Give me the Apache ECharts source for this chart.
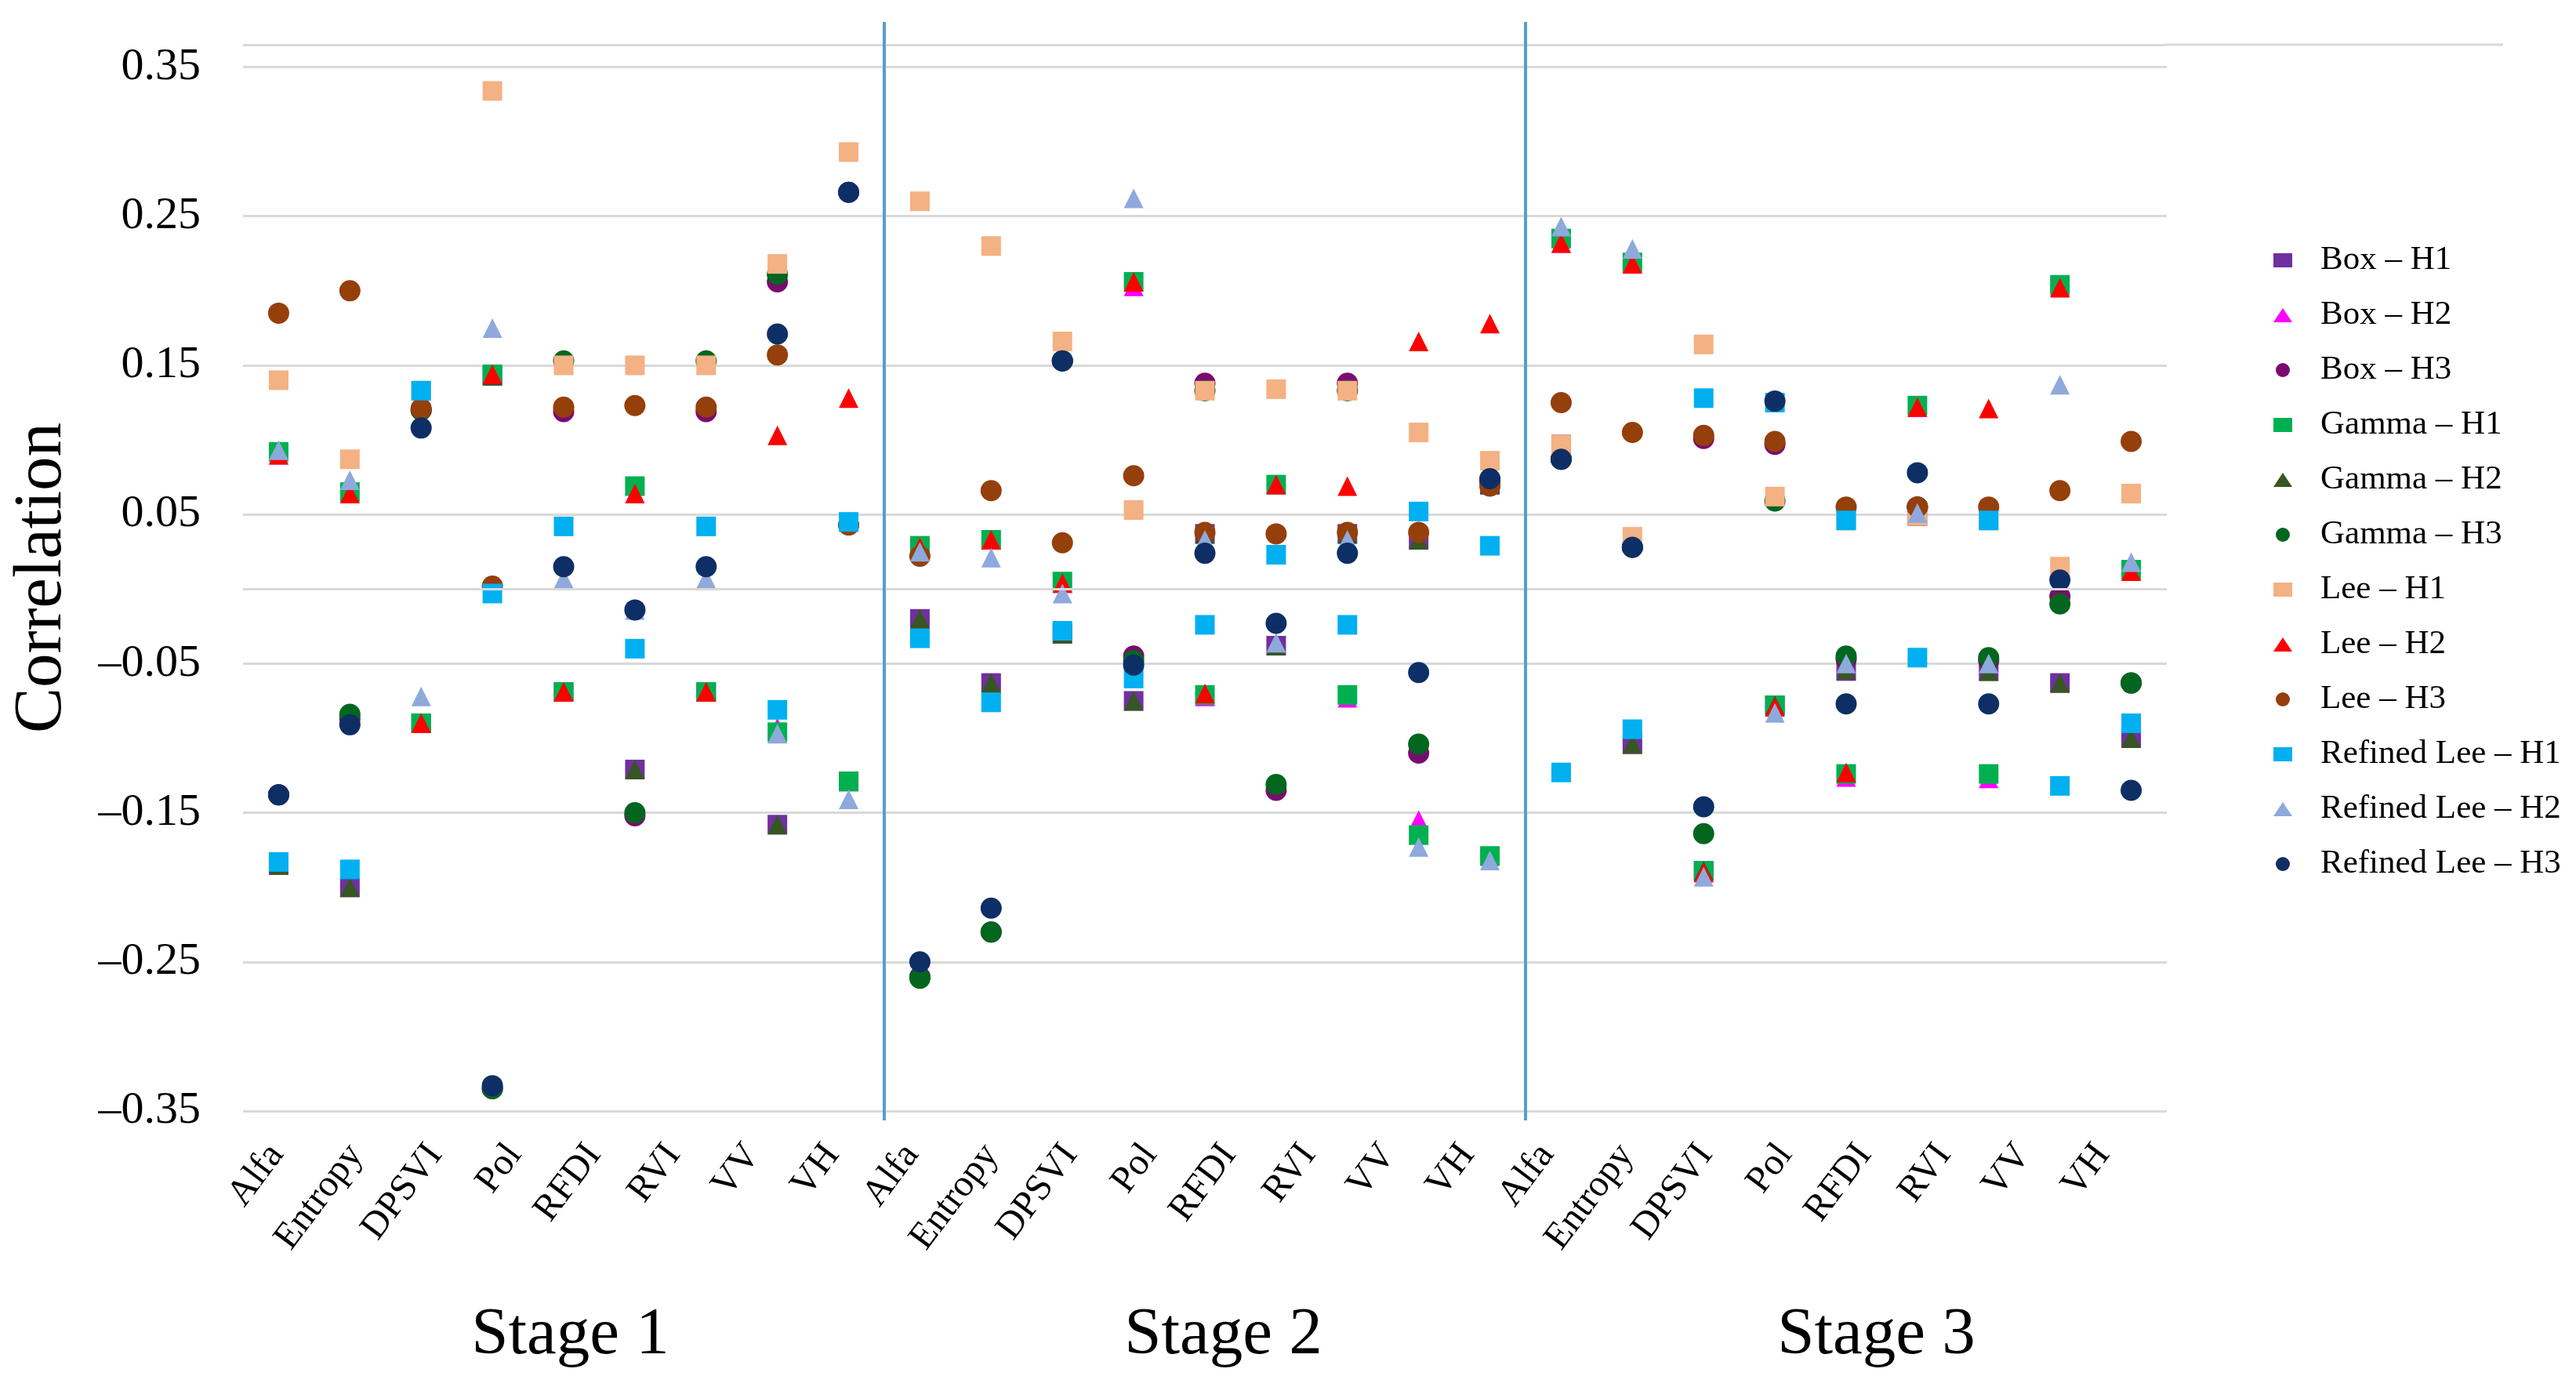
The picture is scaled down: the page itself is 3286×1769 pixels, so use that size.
<!DOCTYPE html>
<html><head><meta charset="utf-8">
<script src="https://cdn.jsdelivr.net/npm/echarts@6/dist/echarts.min.js"></script>
<style>html,body{margin:0;padding:0;background:#fff}#c{width:3286px;height:1769px}</style>
</head><body><div id="c"></div>
<script>
const stages = ['Stage 1', 'Stage 2', 'Stage 3'];
const features = ['Alfa', 'Entropy', 'DPSVI', 'Pol', 'RFDI', 'RVI', 'VV', 'VH'];
const yTicks = [-0.35, -0.25, -0.15, -0.05, 0.05, 0.15, 0.25, 0.35];

// 27 plotted columns (9 per stage), left to right
const boxH1 = [-0.185,-0.200,-0.090,0.143,-0.069,-0.121,-0.069,-0.158,-0.129, -0.020,-0.063,-0.030,-0.075,0.037,-0.038,0.037,0.033,0.070, 0.097,-0.104,-0.189,-0.078,-0.055,0.049,-0.055,-0.063,-0.100];
const boxH2 = [0.090,0.064,-0.090,0.144,-0.069,0.064,-0.069,-0.093,-0.129, 0.028,0.033,0.004,0.203,-0.072,0.070,-0.073,-0.155,-0.179, 0.232,0.218,-0.190,-0.079,-0.126,0.122,-0.127,0.203,0.012];
const boxH3 = [-0.138,-0.087,0.120,-0.335,0.119,-0.152,0.119,0.206,0.266, -0.260,-0.230,0.153,-0.045,0.138,-0.135,0.138,-0.110,0.072, 0.087,0.028,0.101,0.097,-0.047,0.055,-0.048,-0.005,-0.063];
const gammaH1 = [0.092,0.065,-0.090,0.144,-0.069,0.069,-0.069,-0.096,-0.129, 0.029,0.033,0.005,0.206,-0.071,0.070,-0.071,-0.165,-0.179, 0.235,0.219,-0.189,-0.078,-0.124,0.123,-0.124,0.204,0.013];
const gammaH2 = [-0.185,-0.200,-0.090,0.143,-0.069,-0.121,-0.069,-0.158,0.045, -0.020,-0.063,-0.030,-0.075,0.037,-0.038,0.037,0.033,0.070, 0.097,-0.104,-0.189,-0.078,-0.054,0.049,-0.055,-0.063,-0.100];
const gammaH3 = [-0.138,-0.084,0.120,-0.335,0.153,-0.150,0.153,0.211,0.043, -0.261,-0.230,0.153,-0.048,0.133,-0.131,0.133,-0.104,0.073, 0.087,0.028,-0.164,0.059,-0.045,0.055,-0.046,-0.010,-0.063];
const leeH1 = [0.140,0.087,0.133,0.334,0.150,0.150,0.150,0.218,0.293, 0.260,0.230,0.166,0.053,0.133,0.134,0.133,0.105,0.086, 0.097,0.035,0.164,0.062,0.046,0.049,0.046,0.015,0.064];
const leeH2 = [0.090,0.064,-0.090,0.144,-0.069,0.064,-0.069,0.103,0.128, 0.028,0.033,0.004,0.206,-0.070,0.070,0.069,0.166,0.178, 0.232,0.218,-0.190,-0.079,-0.123,0.122,0.121,0.202,0.012];
const leeH3 = [0.185,0.200,0.121,0.002,0.122,0.123,0.122,0.157,0.043, 0.022,0.066,0.031,0.076,0.038,0.037,0.038,0.038,0.069, 0.125,0.105,0.103,0.099,0.055,0.055,0.055,0.066,0.099];
const refinedLeeH1 = [-0.183,-0.188,0.133,-0.003,0.042,-0.040,0.042,-0.081,0.045, -0.033,-0.076,-0.028,-0.060,-0.024,0.023,-0.024,0.052,0.029, -0.123,-0.094,0.128,0.125,0.046,-0.046,0.046,-0.132,-0.090];
const refinedLeeH2 = [0.093,0.073,-0.072,0.175,0.007,-0.014,0.007,-0.097,-0.141, 0.025,0.021,-0.003,0.262,0.033,-0.036,0.033,-0.173,-0.182, 0.243,0.228,-0.193,-0.083,-0.050,0.051,-0.050,0.137,0.018];
const refinedLeeH3 = [-0.138,-0.091,0.108,-0.333,0.015,-0.014,0.015,0.171,0.266, -0.250,-0.214,0.153,-0.051,0.024,-0.023,0.024,-0.056,0.074, 0.087,0.028,-0.146,0.126,-0.077,0.078,-0.077,0.006,-0.135];

const seriesDefs = [
  ['Box – H1', boxH1, 'rect', '#7030A0'],
  ['Box – H2', boxH2, 'triangle', '#FF00FF'],
  ['Box – H3', boxH3, 'circle', '#7A0C6E'],
  ['Gamma – H1', gammaH1, 'rect', '#00B050'],
  ['Gamma – H2', gammaH2, 'triangle', '#375623'],
  ['Gamma – H3', gammaH3, 'circle', '#03661F'],
  ['Lee – H1', leeH1, 'rect', '#F4B183'],
  ['Lee – H2', leeH2, 'triangle', '#FF0000'],
  ['Lee – H3', leeH3, 'circle', '#953F0B'],
  ['Refined Lee – H1', refinedLeeH1, 'rect', '#00B0F0'],
  ['Refined Lee – H2', refinedLeeH2, 'triangle', '#8EA9DB'],
  ['Refined Lee – H3', refinedLeeH3, 'circle', '#0E2F66']
];

const nCols = boxH1.length;
const colsPerStage = nCols / stages.length;
const labelCats = [];
stages.forEach(() => features.forEach(f => labelCats.push(f)));
const FONT = 'Liberation Serif';
const sizes = { rect: 25, triangle: 25, circle: 27 };
const BLUE = '#5B9BD5';

const chart = echarts.init(document.getElementById('c'), null, { renderer: 'canvas' });

const boundaries = [];
for (let k = 1; k < stages.length; k++) boundaries.push(k * colsPerStage + 0.5);

const series = seriesDefs.map(([name, vals, sym, color], si) => {
  const s = {
    name, type: 'scatter', xAxisIndex: 0, yAxisIndex: 0,
    symbol: sym, symbolSize: sizes[sym],
    itemStyle: { color, opacity: 1 },
    data: vals.map((v, i) => [i + 1, v]),
    animation: false
  };
  if (si === 0) {
    s.markLine = {
      silent: true, symbol: ['none', 'none'], label: { show: false }, animation: false,
      data: [{ yAxis: 0, lineStyle: { color: '#d9d9d9', width: 3, type: 'solid' } }]
        .concat(boundaries.map(b => ({ xAxis: b, lineStyle: { color: BLUE, width: 4, type: 'solid' } })))
    };
  }
  return s;
});

function yLabel(v) {
  const t = yTicks.find(x => Math.abs(x - v) < 1e-6);
  if (t === undefined) return '';
  return (t < 0 ? '\u2013' : '') + Math.abs(t).toFixed(2);
}

chart.setOption({
  backgroundColor: '#ffffff',
  animation: false,
  grid: [
    { left: 310, right: 522, top: 57, bottom: 352 },
    { left: 302, right: 553, top: 57, bottom: 352 },
    { left: 311, right: 476, top: 57, bottom: 352 }
  ],
  xAxis: [
    { gridIndex: 0, type: 'value', min: 0.5, max: nCols + 0.5, show: false },
    { gridIndex: 1, type: 'category', data: labelCats, boundaryGap: true,
      axisLine: { show: false }, axisTick: { show: false }, splitLine: { show: false },
      axisLabel: { interval: 0, rotate: 53, margin: 48, fontFamily: FONT, fontSize: 48, color: '#000' } },
    { gridIndex: 2, type: 'category', data: stages, boundaryGap: true,
      axisLine: { show: false }, axisTick: { show: false }, splitLine: { show: false },
      axisLabel: { interval: 0, margin: 287, verticalAlign: 'middle', fontFamily: FONT, fontSize: 85, color: '#000' } }
  ],
  yAxis: [
    { gridIndex: 0, type: 'value', min: -0.35, max: 0.365, interval: 0.1,
      axisLine: { show: false }, axisTick: { show: false },
      splitLine: { show: true, lineStyle: { color: '#d9d9d9', width: 3 } },
      axisLabel: { formatter: yLabel, fontFamily: FONT, fontSize: 58, color: '#000', margin: 54 },
      name: 'Correlation', nameLocation: 'middle', nameGap: 212,
      nameTextStyle: { fontFamily: FONT, fontSize: 87, color: '#000' } },
    { gridIndex: 1, type: 'value', show: false },
    { gridIndex: 2, type: 'value', show: false }
  ],
  legend: {
    orient: 'vertical', left: 2895, top: 305,
    itemWidth: 24, itemHeight: 18, itemGap: 26,
    data: seriesDefs.map(d => d[0]),
    textStyle: { fontFamily: FONT, fontSize: 43, color: '#000', lineHeight: 44, padding: [0, 0, 0, 31] }
  },
  series
});

// decorations: top border extended toward the legend, stage dividers reaching slightly past the plot
const pTop = chart.convertToPixel({ xAxisIndex: 0, yAxisIndex: 0 }, [nCols + 0.5, 0.365]);
const pBot = chart.convertToPixel({ xAxisIndex: 0, yAxisIndex: 0 }, [nCols + 0.5, -0.35]);
const graphics = [{ type: 'line', silent: true, shape: { x1: pTop[0], y1: pTop[1], x2: 3193, y2: pTop[1] }, style: { stroke: '#d9d9d9', lineWidth: 3 } }];
boundaries.forEach(b => {
  const x = chart.convertToPixel({ xAxisIndex: 0, yAxisIndex: 0 }, [b, 0])[0];
  graphics.push({ type: 'line', silent: true, shape: { x1: x, y1: 28, x2: x, y2: pTop[1] }, style: { stroke: BLUE, lineWidth: 4 } });
  graphics.push({ type: 'line', silent: true, shape: { x1: x, y1: pBot[1], x2: x, y2: pBot[1] + 12 }, style: { stroke: BLUE, lineWidth: 4 } });
});
chart.setOption({ graphic: graphics });
</script>
</body></html>
